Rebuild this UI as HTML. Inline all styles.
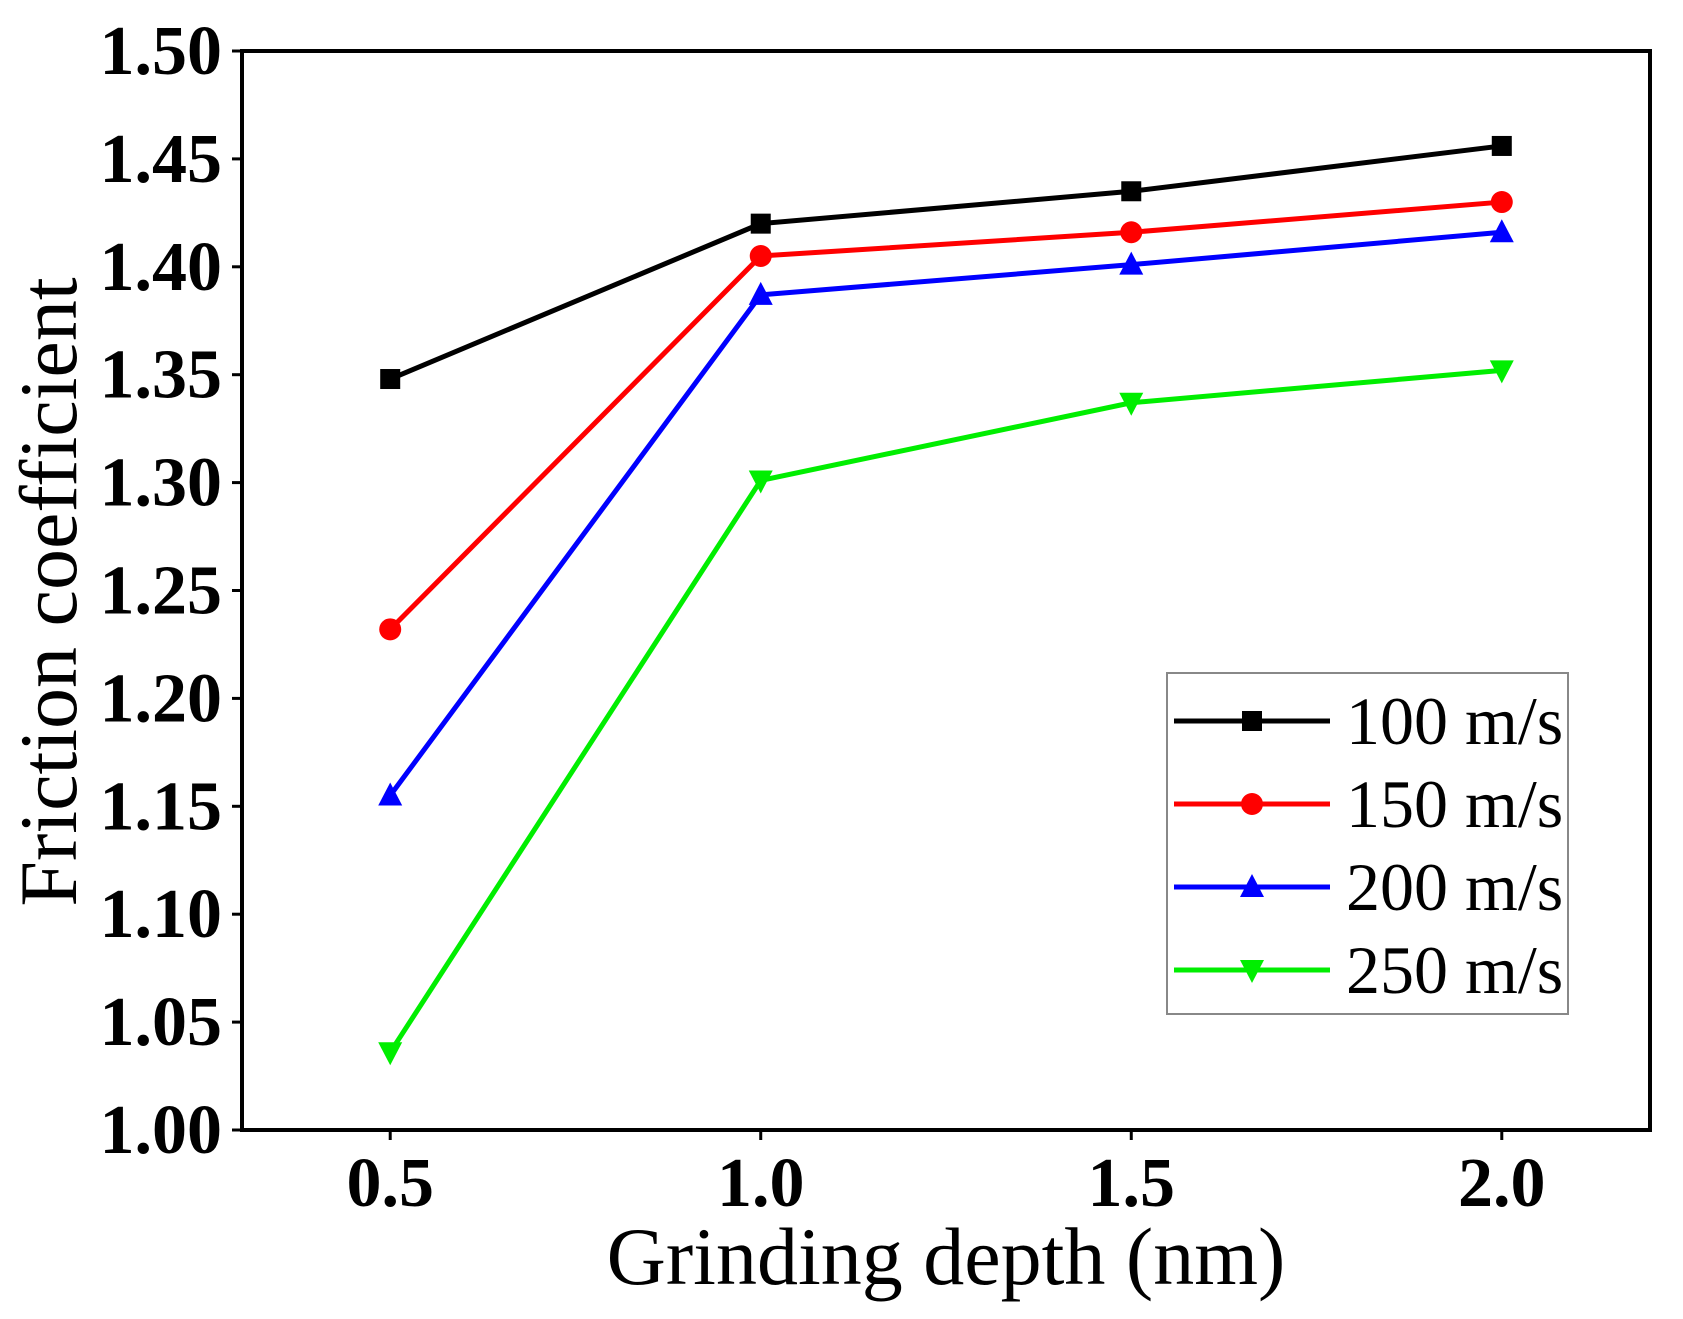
<!DOCTYPE html>
<html><head><meta charset="utf-8"><style>
html,body{margin:0;padding:0;background:#fff;}
svg{display:block;font-family:"Liberation Serif",serif;}
</style></head><body>
<svg id="chart" width="1683" height="1319" viewBox="0 0 1683 1319">
<g id="grid"></g>
<g id="series"></g>
<rect x="242" y="51" width="1408" height="1079" fill="none" stroke="#000" stroke-width="4"/>
<text x="946" y="1284" text-anchor="middle" font-size="82">Grinding depth (nm)</text>
<text transform="translate(76,592) rotate(-90)" text-anchor="middle" font-size="82">Friction coefficient</text>
<g id="legend"></g>
</svg>
<script>
const xTicks = [0.5, 1.0, 1.5, 2.0];
const yTicks = [1.00, 1.05, 1.10, 1.15, 1.20, 1.25, 1.30, 1.35, 1.40, 1.45, 1.50];
const depths = [0.5, 1.0, 1.5, 2.0];
const labels = ["100 m/s", "150 m/s", "200 m/s", "250 m/s"];
const v100 = [1.348, 1.420, 1.435, 1.456];
const v150 = [1.232, 1.405, 1.416, 1.430];
const v200 = [1.155, 1.387, 1.401, 1.416];
const v250 = [1.036, 1.301, 1.337, 1.352];
const colors = ["#000000", "#ff0000", "#0000ff", "#00ee00"];
const markers = ["square", "circle", "triangle", "tridown"];
const allSeries = [v100, v150, v200, v250];

const X0 = 242, X1 = 1650, Y0 = 1130, Y1 = 51;
const xs = v => X0 + (v - 0.3) / (2.2 - 0.3) * (X1 - X0);
const ys = v => Y0 - (v - 1.0) / 0.5 * (Y0 - Y1);
const NS = "http://www.w3.org/2000/svg";
function mk(tag, attrs, parent){const e=document.createElementNS(NS,tag);for(const k in attrs)e.setAttribute(k,attrs[k]);parent.appendChild(e);return e;}
const grid = document.getElementById('grid');
yTicks.forEach(t=>{
  const y=ys(t);
  const l=mk('line',{x1:X0-10,x2:X0,y1:y,y2:y,stroke:'#000','stroke-width':3},grid);
  
  
  const tx=mk('text',{x:X0-20,y:y+23,'text-anchor':'end','font-size':70,'font-weight':'bold'},grid);
  tx.textContent=t.toFixed(2);
  
  
});
xTicks.forEach(t=>{
  const x=xs(t);
  const l=mk('line',{x1:x,x2:x,y1:Y0,y2:Y0+10,stroke:'#000','stroke-width':3},grid);
  
  
  const tx=mk('text',{x:x,y:1206,'text-anchor':'middle','font-size':70,'font-weight':'bold'},grid);
  tx.textContent=t.toFixed(1);
  
  
});
function marker(type,x,y,c,parent){
  let e;
  if(type==='square') e=mk('rect',{x:x-10,y:y-10,width:20,height:20,fill:c},parent);
  else if(type==='circle') e=mk('circle',{cx:x,cy:y,r:11,fill:c},parent);
  else if(type==='triangle') e=mk('polygon',{points:`${x},${y-13} ${x-12},${y+10} ${x+12},${y+10}`,fill:c},parent);
  else e=mk('polygon',{points:`${x},${y+13} ${x-12},${y-10} ${x+12},${y-10}`,fill:c},parent);
  return e;
}
const sg=document.getElementById('series');
allSeries.forEach((vals,i)=>{
  const pts=vals.map((v,j)=>xs(depths[j])+','+ys(v)).join(' ');
  const pl=mk('polyline',{points:pts,fill:'none',stroke:colors[i],'stroke-width':5},sg);
  
  
  vals.forEach((v,j)=>{
    const m=marker(markers[i],xs(depths[j]),ys(v),colors[i],sg);
    
    
  });
});
const lg=document.getElementById('legend');
const box=mk('rect',{x:1167,y:673,width:401,height:341,fill:'#fff',stroke:'#888','stroke-width':2},lg);


labels.forEach((lab,i)=>{
  const y=721+i*83;
  const l=mk('line',{x1:1174,x2:1330,y1:y,y2:y,stroke:colors[i],'stroke-width':5},lg);
  
  
  const m=marker(markers[i],1252,y,colors[i],lg);
  
  
  const t=mk('text',{x:1346,y:y+23,'font-size':68},lg);
  t.textContent=lab;
  
  
});
</script>
</body></html>
